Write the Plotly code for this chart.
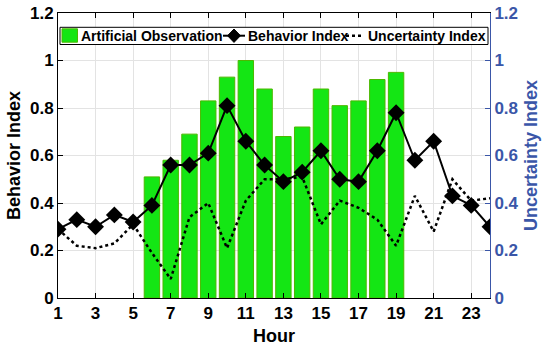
import plotly.graph_objects as go

hours = list(range(1, 25))
bar_hours = list(range(6, 20))
artificial_obs = [0.51, 0.58, 0.69, 0.83, 0.93, 1.00, 0.88, 0.68, 0.72, 0.88, 0.81, 0.83, 0.92, 0.95]
behavior_idx = [0.29, 0.33, 0.30, 0.35, 0.32, 0.39, 0.56, 0.56, 0.61, 0.81, 0.66, 0.56,
                0.49, 0.53, 0.62, 0.50, 0.49, 0.62, 0.78, 0.58, 0.66, 0.43, 0.39, 0.30]
uncertainty_idx = [0.29, 0.22, 0.21, 0.23, 0.31, 0.19, 0.08, 0.34, 0.40, 0.21, 0.41, 0.50,
                   0.50, 0.51, 0.31, 0.41, 0.38, 0.33, 0.22, 0.43, 0.28, 0.50, 0.41, 0.42]
x_ticks = list(range(1, 24, 2))
y_ticks = [0, 0.2, 0.4, 0.6, 0.8, 1.0, 1.2]
y_labels = ["0", "0.2", "0.4", "0.6", "0.8", "1", "1.2"]
legend_names = ["Artificial Observation", "Behavior Index", "Uncertainty Index"]

FONT = "Liberation Sans, Arial, sans-serif"
BLUE = "#3a56a8"
GREEN = "#14e614"
GREEN_EDGE = "#4cb800"

# layout geometry (pixels)
W, H = 550, 354
ML, MR, MT, MB = 58, 60, 13, 56
PW, PH = W - ML - MR, H - MT - MB


def fx(px):
    return (px - ML) / PW


def fy(py):
    return (H - MB - py) / PH


fig = go.Figure()
fig.add_trace(go.Bar(x=bar_hours, y=artificial_obs, name=legend_names[0], width=0.82,
                     marker=dict(color=GREEN, line=dict(color=GREEN_EDGE, width=1))))
fig.add_trace(go.Scatter(x=hours, y=behavior_idx, name=legend_names[1], mode="lines+markers",
                         line=dict(color="black", width=2),
                         marker=dict(symbol="diamond", size=13, color="black")))
fig.add_trace(go.Scatter(x=hours, y=uncertainty_idx, name=legend_names[2], mode="lines",
                         yaxis="y2", line=dict(color="black", width=2.5, dash="dot")))

# legend box drawn in paper coordinates
ly = 35.7
shapes = [
    dict(type="rect", xref="paper", yref="paper", x0=fx(60), x1=fx(488), y0=fy(44.5), y1=fy(27.3),
         fillcolor="white", line=dict(color="black", width=1), layer="above"),
    dict(type="rect", xref="paper", yref="paper", x0=fx(62), x1=fx(77.5), y0=fy(42.2), y1=fy(28.8),
         fillcolor=GREEN, line=dict(color=GREEN_EDGE, width=1), layer="above"),
    dict(type="line", xref="paper", yref="paper", x0=fx(223), x1=fx(245), y0=fy(ly), y1=fy(ly),
         line=dict(color="black", width=2), layer="above"),
    dict(type="path", xref="paper", yref="paper",
         path=f"M {fx(234)},{fy(29)} L {fx(240.5)},{fy(ly)} L {fx(234)},{fy(42.4)} L {fx(227.5)},{fy(ly)} Z",
         fillcolor="black", line=dict(color="black", width=1), layer="above"),
    dict(type="line", xref="paper", yref="paper", x0=fx(346), x1=fx(364), y0=fy(ly), y1=fy(ly),
         line=dict(color="black", width=2.5, dash="dot"), layer="above"),
]
annotations = [
    dict(text=legend_names[0], x=fx(79), y=fy(ly)),
    dict(text=legend_names[1], x=fx(245.5), y=fy(ly)),
    dict(text=legend_names[2], x=fx(366), y=fy(ly)),
]
for a in annotations:
    a.update(xref="paper", yref="paper", xanchor="left", yanchor="middle", showarrow=False,
             font=dict(family=FONT, size=14, color="black", weight="bold"))

fig.update_layout(
    width=W, height=H,
    margin=dict(l=ML, r=MR, t=MT, b=MB, autoexpand=False),
    plot_bgcolor="white", paper_bgcolor="white",
    font=dict(family=FONT, size=15, color="black"),
    showlegend=False,
    shapes=shapes, annotations=annotations,
    xaxis=dict(range=[1, 24], tickvals=x_ticks, showgrid=True, gridcolor="#e3e3e3",
               showline=True, linecolor="black", linewidth=1, mirror="ticks",
               ticks="inside", ticklen=5, tickcolor="black", automargin=False,
               tickfont=dict(family=FONT, size=17, weight="bold"),
               title=dict(text="Hour", font=dict(family=FONT, size=18, weight="bold"), standoff=6),
               zeroline=False),
    yaxis=dict(range=[0, 1.2], tickvals=y_ticks, ticktext=y_labels, showgrid=True, gridcolor="#e3e3e3",
               showline=True, linecolor="black", linewidth=1, automargin=False,
               ticks="inside", ticklen=5, tickcolor="black",
               tickfont=dict(family=FONT, size=17, weight="bold"),
               title=dict(text="Behavior Index", font=dict(family=FONT, size=18, weight="bold"), standoff=4),
               zeroline=False),
    yaxis2=dict(range=[0, 1.2], tickvals=y_ticks, ticktext=y_labels, overlaying="y", side="right",
                showgrid=False, showline=True, linecolor=BLUE, linewidth=1, automargin=False,
                ticks="inside", ticklen=5, tickcolor=BLUE,
                tickfont=dict(family=FONT, size=17, weight="bold", color=BLUE),
                title=dict(text="Uncertainty Index", font=dict(family=FONT, size=18, weight="bold", color=BLUE), standoff=6),
                zeroline=False),
)

fig.write_html("out.html", config={"displayModeBar": False},
               post_script="document.body.style.margin='0px';")
